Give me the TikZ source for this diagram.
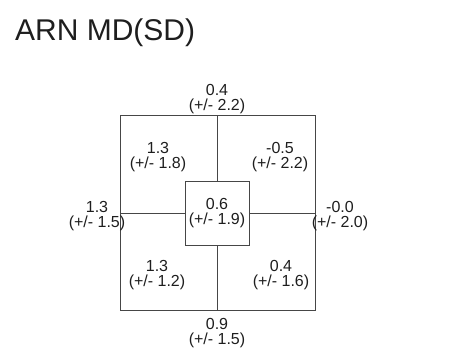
\documentclass[tikz,border=0pt]{standalone}
\usepackage{fontspec}
\setmainfont{Liberation Sans}
\usetikzlibrary{positioning}
\definecolor{linegray}{RGB}{70,70,70}
\definecolor{textgray}{RGB}{30,30,30}
\tikzset{
  val/.style={align=center, inner sep=0pt, text=textgray,
    font=\fontsize{16}{14.5}\selectfont},
  midbox/.style={draw=linegray, line width=1pt, minimum size=64pt,
    inner sep=0pt, val},
  wall/.style={draw=linegray, line width=1pt}
}
\begin{document}
\begin{tikzpicture}[x=1pt,y=-1pt]
    \useasboundingbox (0,0) rectangle (450,360);
    % title
    \node[anchor=base west, inner sep=0pt, text=textgray,
      font=\fontsize{30}{30}\selectfont] (title) at (15,40) {ARN MD(SD)};

    % outer square and split lines
    \draw[wall] (120,115) rectangle (315,310);
    \node[midbox] (mid) at (217,213) {0.6\\(+/- 1.9)};
    \coordinate (ntop) at (217,115);
    \coordinate (nbot) at (217,310);
    \coordinate (nleft) at (120,213);
    \coordinate (nright) at (315,213);
    \draw[wall] (ntop) -- (mid.north);
    \draw[wall] (mid.south) -- (nbot);
    \draw[wall] (nleft) -- (mid.west);
    \draw[wall] (mid.east) -- (nright);

    % values
    \node[val] (top) at (217,99) {0.4\\(+/- 2.2)};
    \node[val] (bot) at (217,333) {0.9\\(+/- 1.5)};
    \node[val] (left) at (97,216) {1.3\\(+/- 1.5)};
    \node[val] (right) at (340,216) {-0.0\\(+/- 2.0)};
    \node[val] (ul) at (158,157) {1.3\\(+/- 1.8)};
    \node[val] (ur) at (280,157) {-0.5\\(+/- 2.2)};
    \node[val] (ll) at (157,275) {1.3\\(+/- 1.2)};
    \node[val] (lr) at (281,275) {0.4\\(+/- 1.6)};
\end{tikzpicture}
\end{document}
